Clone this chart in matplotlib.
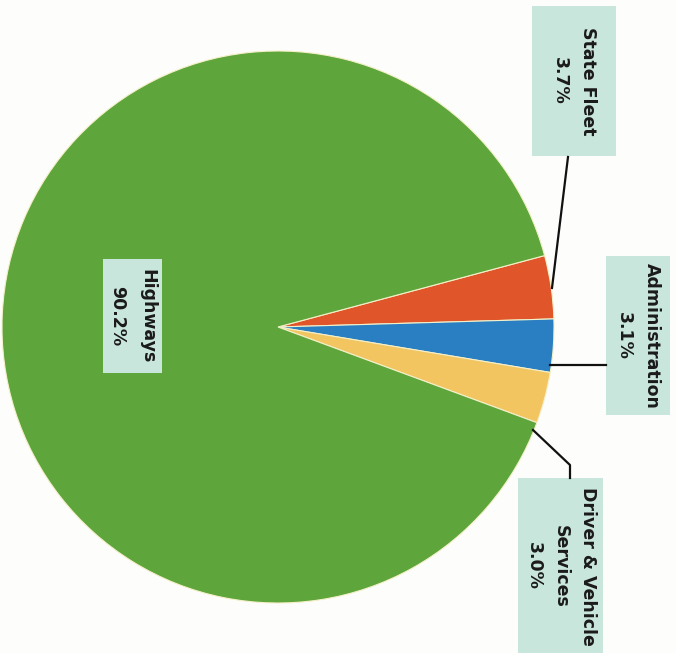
import matplotlib
matplotlib.use("Agg")
import matplotlib.pyplot as plt
from matplotlib.patches import Rectangle

categories = ["State Fleet", "Administration", "Driver & Vehicle\nServices", "Highways"]
values = [3.7, 3.1, 3.0, 90.2]
colors = ["#e0562a", "#2a7fc2", "#f2c561", "#5ea63c"]

W, H = 676, 653
fig = plt.figure(figsize=(W / 100, H / 100), dpi=100)
fig.patch.set_facecolor("#fdfdfb")
ax = fig.add_axes([0, 0, 1, 1])

def Y(y):
    return H - y

ax.pie(values, colors=colors, startangle=15, counterclock=False,
       center=(278, Y(327)), radius=276,
       wedgeprops=dict(linewidth=0.8, edgecolor="#f4f0c8"))
ax.set_xlim(0, W)
ax.set_ylim(0, H)
ax.set_aspect("equal")
ax.axis("off")

box_color = "#c9e6dc"
font = dict(family="DejaVu Sans", weight="bold", size=12.5, color="#1a1a1a")

def label_box(x0, y0, x1, y1, text, cy=None, ls=1.75):
    ax.add_patch(Rectangle((x0, Y(y1)), x1 - x0, y1 - y0, facecolor=box_color,
                           edgecolor="none", zorder=3))
    cx = (x0 + x1) / 2
    if cy is None:
        cy = (y0 + y1) / 2
    ax.text(cx, Y(cy), text, rotation=-90, ha="center", va="center",
            multialignment="center", linespacing=ls, zorder=4, **font)

# State Fleet
label_box(532, 6, 616, 156, f"{categories[0]}\n{values[0]:.1f}%")
ax.plot([568, 552], [Y(157), Y(288)], color="#111111", lw=1.6, zorder=5)

# Administration
label_box(606, 256, 670, 415, f"{categories[1]}\n{values[1]:.1f}%")
ax.plot([550, 606], [Y(365), Y(365)], color="#111111", lw=1.6, zorder=5)

# Driver & Vehicle Services
label_box(518, 478, 603, 700, f"{categories[2]}\n{values[2]:.1f}%", cy=566, ls=1.65)
ax.plot([533, 570, 570], [Y(430), Y(465), Y(478)], color="#111111", lw=1.6, zorder=5)

# Highways
label_box(103, 259, 162, 373, f"{categories[3]}\n{values[3]:.1f}%", ls=1.9)

fig.savefig("out.png", dpi=100, facecolor=fig.get_facecolor())
